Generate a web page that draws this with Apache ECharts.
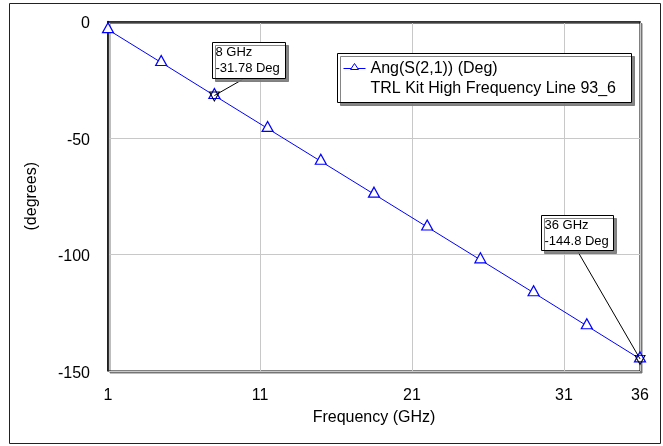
<!DOCTYPE html>
<html>
<head>
<meta charset="utf-8">
<script src="https://cdn.jsdelivr.net/npm/echarts@6/dist/echarts.min.js"></script>
<style>
  html, body { margin: 0; padding: 0; background: #fff; }
  #chart { width: 663px; height: 446px; }
</style>
</head>
<body>
<div id="chart"></div>
<script>
// Transmission phase of the TRL line, sampled at the marker frequencies
const freqGHz = [1, 4.5, 8, 11.5, 15, 18.5, 22, 25.5, 29, 32.5, 36];
const angDeg = [-3.5, -17.6, -31.78, -45.9, -60.0, -74.1, -88.2, -102.3, -116.4, -130.6, -144.8];

const seriesName = 'Ang(S(2,1)) (Deg)';
const seriesSource = 'TRL Kit High Frequency Line 93_6';

// x axis: 1 .. 36 GHz, ticks every 10 GHz counted from 1
const xMin = 1, xMax = 36, xStep = 10;
// y axis: -150 .. 0 degrees
const yMin = -150, yMax = 0, yStep = 50;

// points that carry a readout box
const readoutIdx = [2, 10];

const FONT = 'Arial, "Liberation Sans", sans-serif';
const BLUE = '#0000ff';

const chart = echarts.init(document.getElementById('chart'), null, { renderer: 'canvas' });

const option = {
  animation: false,
  backgroundColor: '#ffffff',
  grid: {
    left: 108, right: 23, top: 21.5, bottom: 75,
    show: true,
    backgroundColor: '#ffffff',
    borderColor: '#000000',
    borderWidth: 1,
    shadowColor: 'rgba(110,110,110,0.9)',
    shadowOffsetX: 2,
    shadowOffsetY: 2,
    shadowBlur: 0
  },
  xAxis: {
    type: 'value',
    min: xMin, max: xMax, interval: xStep,
    name: 'Frequency (GHz)',
    nameLocation: 'middle',
    nameGap: 39,
    nameTextStyle: { fontFamily: FONT, fontSize: 16, color: '#000' },
    axisLine: { show: true, lineStyle: { color: '#000', width: 1.5 } },
    axisTick: { show: false },
    axisLabel: { fontFamily: FONT, fontSize: 16, color: '#000', margin: 17,
                 showMinLabel: true, showMaxLabel: true },
    splitLine: { show: true, lineStyle: { color: '#c8c8c8', width: 1 } }
  },
  yAxis: {
    type: 'value',
    min: yMin, max: yMax, interval: yStep,
    name: '(degrees)',
    nameLocation: 'middle',
    nameRotate: 90,
    nameGap: 68,
    nameTextStyle: { fontFamily: FONT, fontSize: 16, color: '#000' },
    axisLine: { show: true, lineStyle: { color: '#000', width: 1.5 } },
    axisTick: { show: false },
    axisLabel: { fontFamily: FONT, fontSize: 16, color: '#000', margin: 18,
                 verticalAlign: 'top', lineHeight: 5 },
    splitLine: { show: true, lineStyle: { color: '#c8c8c8', width: 1 } }
  },
  series: [{
    name: seriesName,
    type: 'line',
    data: freqGHz.map((f, i) => [f, angDeg[i]]),
    lineStyle: { color: BLUE, width: 1 },
    itemStyle: { color: '#fff', borderColor: BLUE, borderWidth: 1.2 },
    symbol: 'triangle',
    symbolSize: [11, 10],
    symbolOffset: [0, -2],
    showAllSymbol: true,
    clip: false,
    markPoint: {
      symbol: 'triangle',
      symbolRotate: 180,
      symbolSize: [10, 9],
      symbolOffset: [0, 1],
      itemStyle: { color: 'rgba(0,0,0,0)', borderColor: '#000', borderWidth: 1 },
      label: { show: false },
      data: readoutIdx.map(i => ({ coord: [freqGHz[i], angDeg[i]] }))
    }
  }]
};

chart.setOption(option);

// readout boxes, leader lines, legend and outer frame
const graphics = [];

graphics.push({
  type: 'rect', silent: true, z: 0,
  shape: { x: 9.5, y: 3.5, width: 651, height: 440 },
  style: { fill: 'none', stroke: '#222', lineWidth: 1 }
});

// layout of each readout box relative to its point: [dx, dy, w, h, leaderDx, leaderDy]
const readoutLayout = {
  2: [-2, -54, 73, 36, 28, -16],
  10: [-99, -144, 72, 35, -62, -107]
};

readoutIdx.forEach(i => {
  const p = chart.convertToPixel({ gridIndex: 0 }, [freqGHz[i], angDeg[i]]);
  const [dx, dy, w, h, lx, ly] = readoutLayout[i];
  const bx = Math.round(p[0] + dx) + 0.5, by = Math.round(p[1] + dy) + 0.5;
  graphics.push({
    type: 'line', silent: true, z: 50,
    shape: { x1: p[0] + lx, y1: p[1] + ly, x2: p[0], y2: p[1] },
    style: { stroke: '#000', lineWidth: 1 }
  });
  graphics.push({
    type: 'rect', silent: true, z: 51,
    shape: { x: bx, y: by, width: w, height: h },
    style: { fill: '#fff', stroke: '#000', lineWidth: 1,
             shadowColor: 'rgba(120,120,120,0.9)', shadowOffsetX: 3, shadowOffsetY: 3, shadowBlur: 0 }
  });
  graphics.push({
    type: 'text', silent: true, z: 52,
    x: bx + 3, y: by + 2,
    style: { text: freqGHz[i] + ' GHz\n' + angDeg[i] + ' Deg', font: '13px ' + FONT,
             fill: '#000', lineHeight: 16, textVerticalAlign: 'top' }
  });
});

// legend block
const lgX = 337.5, lgY = 53.5, lgW = 294, lgH = 49;
graphics.push({
  type: 'rect', silent: true, z: 60,
  shape: { x: lgX, y: lgY, width: lgW, height: lgH },
  style: { fill: '#fff', stroke: '#000', lineWidth: 1,
           shadowColor: 'rgba(120,120,120,0.9)', shadowOffsetX: 3, shadowOffsetY: 3, shadowBlur: 0 }
});
graphics.push({
  type: 'line', silent: true, z: 61,
  shape: { x1: lgX + 6, y1: lgY + 15, x2: lgX + 28, y2: lgY + 15 },
  style: { stroke: BLUE, lineWidth: 1 }
});
graphics.push({
  type: 'polygon', silent: true, z: 62,
  shape: { points: [[lgX + 17, lgY + 10], [lgX + 13, lgY + 16], [lgX + 21, lgY + 16]] },
  style: { fill: '#fff', stroke: BLUE, lineWidth: 1 }
});
graphics.push({
  type: 'text', silent: true, z: 62,
  x: lgX + 33, y: lgY + 5,
  style: { text: seriesName + '\n' + seriesSource, font: '16px ' + FONT,
           fill: '#000', lineHeight: 20, textVerticalAlign: 'top' }
});

chart.setOption({ graphic: graphics });
</script>
</body>
</html>
